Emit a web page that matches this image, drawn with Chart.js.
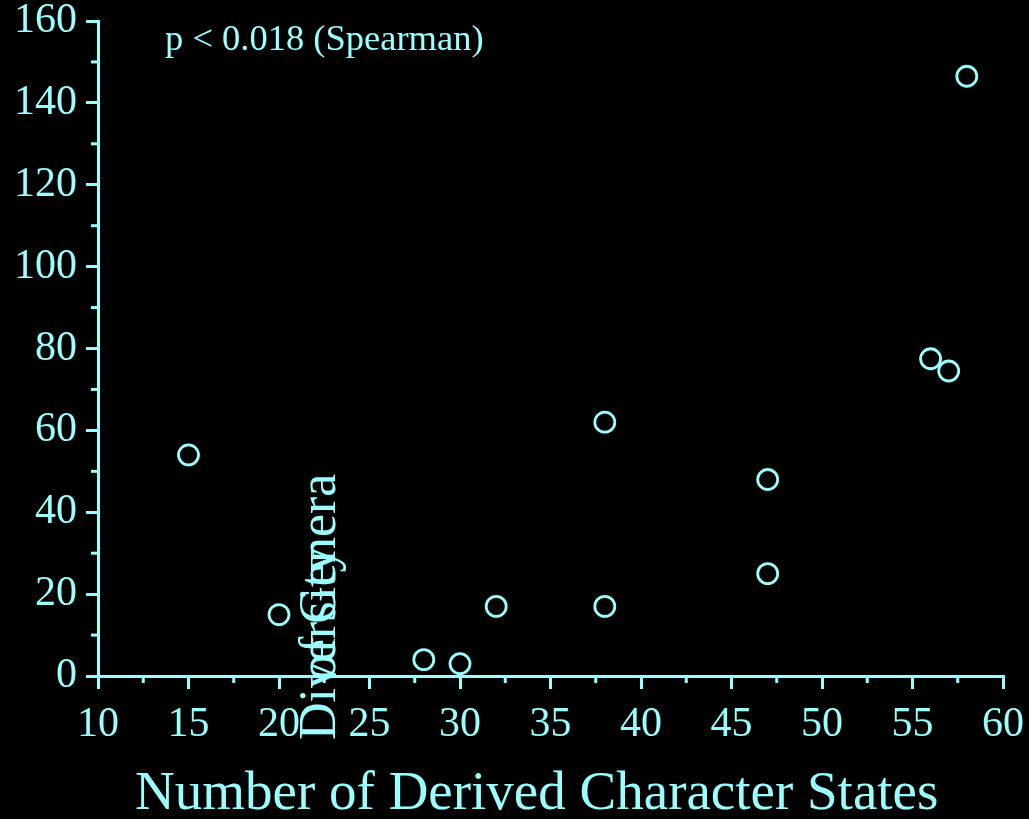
<!DOCTYPE html>
<html lang="en">
<head>
  <meta charset="UTF-8">
  <title>Derived Character States vs Diversity</title>
  <script src="https://cdn.jsdelivr.net/npm/chart.js"></script>
  <style>
    body {
      margin: 0;
      background-color: black;
    }
    .chart-container {
      width: 1029px;
      height: 819px;
    }
  </style>
</head>
<body>
  <div class="chart-container">
    <canvas id="scatterChart"></canvas>
  </div>
  <script>
    // values
    const derivedStates = [15, 20, 28, 30, 32, 38, 38, 47, 47, 56, 57, 58];
    const generaCount = [54, 15, 4, 3, 17, 17, 62, 25, 48, 77.5, 74.5, 146.5];

    const xTitle = 'Number of Derived Character States';
    const yTitleParts = ['Diversity', 'of Genera'];
    const note = 'p < 0.018 (Spearman)';

    const cyan = '#99ffff';
    const serif = "'Liberation Serif', 'Times New Roman', serif";

    const points = derivedStates.map((x, i) => ({ x: x, y: generaCount[i] }));

    // half-step ticks between the labelled ones, plus the stray labels
    const extrasPlugin = {
      id: 'extras',
      afterDraw(chart) {
        const ctx = chart.ctx;
        const xs = chart.scales.x;
        const ys = chart.scales.y;
        ctx.save();
        ctx.strokeStyle = cyan;
        ctx.lineWidth = 3;
        for (let v = 12.5; v < 60; v += 5) {
          const px = xs.getPixelForValue(v);
          ctx.beginPath();
          ctx.moveTo(px, ys.bottom);
          ctx.lineTo(px, ys.bottom + 7);
          ctx.stroke();
        }
        for (let v = 10; v < 160; v += 20) {
          const py = ys.getPixelForValue(v);
          ctx.beginPath();
          ctx.moveTo(xs.left, py);
          ctx.lineTo(xs.left - 7, py);
          ctx.stroke();
        }

        ctx.fillStyle = cyan;
        ctx.font = '36.5px ' + serif;
        ctx.textBaseline = 'alphabetic';
        ctx.textAlign = 'left';
        ctx.fillText(note, chart.chartArea.left + 67, chart.chartArea.top + 29);

        // the y title ended up overlapping itself inside the plot
        ctx.font = '52px ' + serif;
        ctx.translate(335, 0);
        ctx.rotate(-Math.PI / 2);
        ctx.fillText(yTitleParts[0], -740, 0);
        ctx.fillText(yTitleParts[1], -680, 0);
        ctx.restore();
      }
    };

    const config = {
      type: 'scatter',
      data: {
        datasets: [{
          data: points,
          pointRadius: 10,
          pointHoverRadius: 10,
          pointBorderWidth: 2.8,
          borderColor: cyan,
          backgroundColor: 'rgba(0,0,0,0)'
        }]
      },
      options: {
        responsive: true,
        maintainAspectRatio: false,
        animation: false,
        layout: {
          padding: { left: 0, top: 21, right: 26, bottom: 0 }
        },
        plugins: {
          legend: { display: false },
          tooltip: { enabled: false }
        },
        scales: {
          x: {
            type: 'linear',
            min: 10,
            max: 60,
            afterFit(scale) {
              scale.height = 143;
              scale.paddingLeft = 0;
              scale.paddingRight = 0;
            },
            ticks: {
              stepSize: 5,
              color: cyan,
              padding: 11,
              maxRotation: 0,
              font: { family: serif, size: 42 }
            },
            grid: {
              drawOnChartArea: false,
              drawTicks: true,
              tickLength: 13,
              color: cyan,
              lineWidth: 3
            },
            border: { display: true, color: cyan, width: 3 },
            title: {
              display: true,
              text: xTitle + '  ',
              color: cyan,
              padding: { top: 0, bottom: -3 },
              font: { family: serif, size: 55, lineHeight: 1 }
            }
          },
          y: {
            type: 'linear',
            min: 0,
            max: 160,
            afterFit(scale) {
              scale.width = 98;
              scale.paddingTop = 0;
              scale.paddingBottom = 0;
            },
            ticks: {
              stepSize: 20,
              color: cyan,
              padding: 9,
              font: { family: serif, size: 42 }
            },
            grid: {
              drawOnChartArea: false,
              drawTicks: true,
              tickLength: 12,
              color: cyan,
              lineWidth: 3
            },
            border: { display: true, color: cyan, width: 3 }
          }
        }
      },
      plugins: [extrasPlugin]
    };

    new Chart(document.getElementById('scatterChart'), config);
  </script>
</body>
</html>
